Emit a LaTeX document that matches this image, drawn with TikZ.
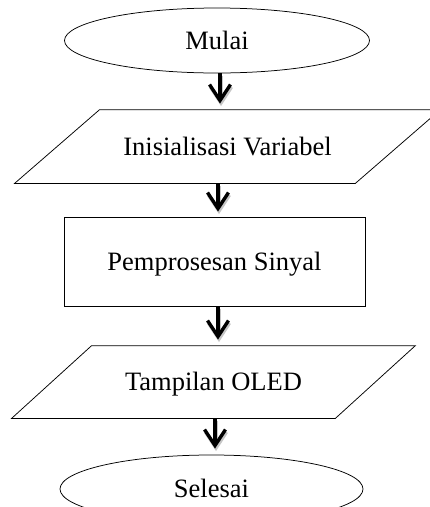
\documentclass[tikz,border=0pt]{standalone}
\usepackage{fontspec}
\setmainfont{Liberation Serif}
\usetikzlibrary{shapes.geometric,arrows.meta}
\tikzset{
  base/.style={line width=0.75pt, inner sep=0pt, text height=17.5pt, text depth=0pt,
    font=\fontsize{26.5}{30}\selectfont},
  term/.style={base, draw=black, ellipse},
  io/.style={base, rectangle},
  proc/.style={base, draw=black, rectangle},
  pgram/.style={draw=black, line width=0.75pt, line join=miter},
  arr/.style={line width=3.4pt, -{Straight Barb[length=16pt,width=21pt]}},
  arrshadow/.style={arr, draw=gray!45, transform canvas={xshift=1pt,yshift=-2.5pt}}
}
\begin{document}
\begin{tikzpicture}[x=1pt,y=-1pt]
\useasboundingbox (0,0) rectangle (430,507);
\clip (0,0) rectangle (430,507);
\node[term, minimum width=305pt, minimum height=65pt] (mulai) at (217,40.5) {Mulai};
\node[io, minimum width=340pt, minimum height=73pt] (init) at (227.5,146.5) {Inisialisasi Variabel};
\draw[pgram] ([xshift=42.5pt]init.north west) -- ([xshift=42.5pt]init.north east)
  -- ([xshift=-42.5pt]init.south east) -- ([xshift=-42.5pt]init.south west) -- cycle;
\node[proc, minimum width=301pt, minimum height=89pt] (sig) at (214.5,261.5) {Pemprosesan Sinyal};
\node[io, minimum width=323pt, minimum height=72pt] (oled) at (213.5,382) {Tampilan OLED};
\draw[pgram] ([xshift=40pt]oled.north west) -- ([xshift=40pt]oled.north east)
  -- ([xshift=-40pt]oled.south east) -- ([xshift=-40pt]oled.south west) -- cycle;
\node[term, minimum width=303pt, minimum height=68pt] (selesai) at (211.5,489) {Selesai};
\foreach \s in {arrshadow,arr}{
  \draw[\s] ([xshift=3pt]mulai.south) -- ([xshift=-7.5pt,yshift=6pt]init.north);
  \draw[\s] ([xshift=-9.5pt]init.south) -- ([xshift=3.5pt,yshift=5pt]sig.north);
  \draw[\s] ([xshift=3.5pt]sig.south) -- ([xshift=4.5pt,yshift=6pt]oled.north);
  \draw[\s] ([xshift=1.5pt]oled.south) -- ([xshift=3.5pt,yshift=6pt]selesai.north);
}
\end{tikzpicture}
\end{document}
